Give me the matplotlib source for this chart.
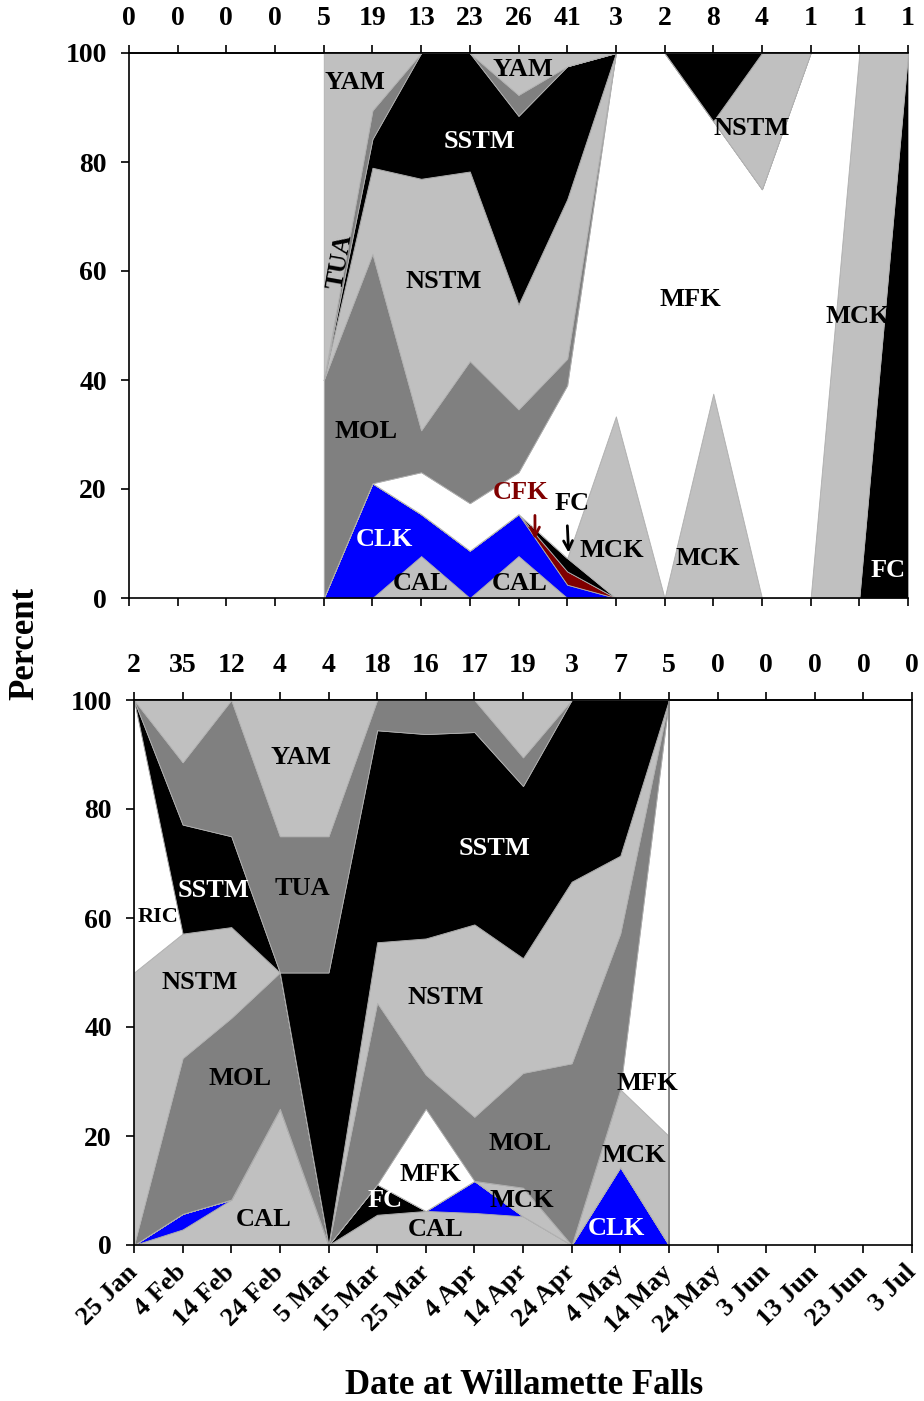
import numpy as np
import matplotlib
matplotlib.use('Agg')
import matplotlib.pyplot as plt

plt.rcParams['font.family'] = ['Liberation Serif', 'DejaVu Serif']
plt.rcParams['font.weight'] = 'bold'

# dates at Willamette Falls, 10 day steps
dates = ['25 Jan', '4 Feb', '14 Feb', '24 Feb', '5 Mar', '15 Mar', '25 Mar', '4 Apr',
         '14 Apr', '24 Apr', '4 May', '14 May', '24 May', '3 Jun', '13 Jun', '23 Jun', '3 Jul']

# stacking order (bottom -> top) and fill colour
species = ['CAL', 'CLK', 'CFK', 'FC', 'MCK', 'MFK', 'MOL', 'NSTM', 'RIC', 'SSTM', 'TUA', 'YAM']
fill = {'CAL': '#c0c0c0', 'CLK': '#0000ff', 'CFK': '#800000', 'FC': '#000000',
        'MCK': '#c0c0c0', 'MFK': '#ffffff', 'MOL': '#808080', 'NSTM': '#c0c0c0',
        'RIC': '#ffffff', 'SSTM': '#000000', 'TUA': '#808080', 'YAM': '#c0c0c0'}

# fish counts, upper panel (one value per date)
top_cal  = [0, 0, 0, 0, 0, 0, 1, 0, 2, 0, 0, 0, 0, 0, 0, 0, 0]
top_clk  = [0, 0, 0, 0, 0, 4, 1, 2, 2, 1, 0, 0, 0, 0, 0, 0, 0]
top_cfk  = [0, 0, 0, 0, 0, 0, 0, 0, 0, 1, 0, 0, 0, 0, 0, 0, 0]
top_fc   = [0, 0, 0, 0, 0, 0, 0, 0, 0, 1, 0, 0, 0, 0, 0, 0, 1]
top_mck  = [0, 0, 0, 0, 0, 0, 0, 0, 0, 0, 1, 0, 3, 0, 0, 1, 0]
top_mfk  = [0, 0, 0, 0, 0, 0, 1, 2, 2, 13, 2, 2, 4, 3, 1, 0, 0]
top_mol  = [0, 0, 0, 0, 2, 8, 1, 6, 3, 2, 0, 0, 0, 0, 0, 0, 0]
top_nstm = [0, 0, 0, 0, 0, 3, 6, 8, 5, 12, 0, 0, 0, 1, 0, 0, 0]
top_ric  = [0] * 17
top_sstm = [0, 0, 0, 0, 0, 1, 3, 5, 9, 10, 0, 0, 1, 0, 0, 0, 0]
top_tua  = [0, 0, 0, 0, 0, 1, 0, 0, 1, 0, 0, 0, 0, 0, 0, 0, 0]
top_yam  = [0, 0, 0, 0, 3, 2, 0, 0, 2, 1, 0, 0, 0, 0, 0, 0, 0]

# fish counts, lower panel
bot_cal  = [0, 1, 1, 1, 0, 1, 1, 1, 1, 0, 0, 0, 0, 0, 0, 0, 0]
bot_clk  = [0, 1, 0, 0, 0, 0, 0, 1, 0, 0, 1, 0, 0, 0, 0, 0, 0]
bot_cfk  = [0] * 17
bot_fc   = [0, 0, 0, 0, 0, 1, 0, 0, 0, 0, 0, 0, 0, 0, 0, 0, 0]
bot_mck  = [0, 0, 0, 0, 0, 0, 0, 0, 1, 0, 1, 1, 0, 0, 0, 0, 0]
bot_mfk  = [0, 0, 0, 0, 0, 0, 3, 0, 0, 0, 0, 4, 0, 0, 0, 0, 0]
bot_mol  = [0, 10, 4, 1, 0, 6, 1, 2, 4, 1, 2, 0, 0, 0, 0, 0, 0]
bot_nstm = [1, 8, 2, 0, 0, 2, 4, 6, 4, 1, 1, 0, 0, 0, 0, 0, 0]
bot_ric  = [1, 0, 0, 0, 0, 0, 0, 0, 0, 0, 0, 0, 0, 0, 0, 0, 0]
bot_sstm = [0, 7, 2, 0, 2, 7, 6, 6, 6, 1, 2, 0, 0, 0, 0, 0, 0]
bot_tua  = [0, 4, 3, 1, 1, 1, 1, 1, 1, 0, 0, 0, 0, 0, 0, 0, 0]
bot_yam  = [0, 4, 0, 1, 1, 0, 0, 0, 2, 0, 0, 0, 0, 0, 0, 0, 0]

top_counts = dict(zip(species, [top_cal, top_clk, top_cfk, top_fc, top_mck, top_mfk,
                                top_mol, top_nstm, top_ric, top_sstm, top_tua, top_yam]))
bot_counts = dict(zip(species, [bot_cal, bot_clk, bot_cfk, bot_fc, bot_mck, bot_mfk,
                                bot_mol, bot_nstm, bot_ric, bot_sstm, bot_tua, bot_yam]))

# region labels: (text, x index, percent, colour, rotation)
top_labels = [('YAM', 4.64, 94.5, 'k', 0), ('YAM', 8.09, 96.9, 'k', 0),
              ('SSTM', 7.19, 83.7, 'w', 0), ('TUA', 4.33, 61.7, 'k', 80),
              ('NSTM', 6.47, 58.0, 'k', 0), ('MOL', 4.87, 30.6, 'k', 0),
              ('CLK', 5.24, 10.8, 'w', 0), ('CAL', 6.0, 2.6, 'k', 0),
              ('CAL', 8.03, 2.6, 'k', 0), ('MCK', 9.92, 8.8, 'k', 0),
              ('MCK', 11.89, 7.2, 'k', 0), ('MFK', 11.52, 54.7, 'k', 0),
              ('NSTM', 12.79, 86.2, 'k', 0), ('MCK', 14.97, 51.7, 'k', 0),
              ('FC', 15.59, 5.0, 'w', 0)]
bot_labels = [('YAM', 3.44, 89.5, 'k', 0), ('SSTM', 1.63, 65.1, 'w', 0),
              ('TUA', 3.46, 65.5, 'k', 0), ('RIC', 0.49, 60.2, 'k', 0),
              ('NSTM', 1.36, 48.1, 'k', 0),
              ('MOL', 2.18, 30.5, 'k', 0), ('CAL', 2.67, 4.6, 'k', 0),
              ('SSTM', 7.41, 72.8, 'w', 0), ('NSTM', 6.42, 45.5, 'k', 0),
              ('MOL', 7.94, 18.7, 'k', 0), ('MFK', 6.09, 13.0, 'k', 0),
              ('FC', 5.16, 8.1, 'w', 0), ('MCK', 7.98, 8.1, 'k', 0),
              ('CAL', 6.21, 2.8, 'k', 0), ('MFK', 10.56, 29.7, 'k', 0),
              ('MCK', 10.27, 16.5, 'k', 0), ('CLK', 9.92, 3.1, 'w', 0)]


def draw_panel(ax, counts, labels, show_dates):
    x_all = np.arange(len(dates))
    n = np.sum([counts[s] for s in species], axis=0)
    ok = n > 0
    x = x_all[ok]
    base = np.zeros(len(x))
    for s in species:
        pct = np.array(counts[s])[ok] / n[ok] * 100.0
        ax.fill_between(x, base, base + pct, facecolor=fill[s],
                        edgecolor='#b0b0b0', linewidth=0.6)
        base = base + pct

    for txt, lx, ly, c, rot in labels:
        size = 16 if txt == 'RIC' else 19
        ax.text(lx, ly, txt, color=c, fontsize=size, ha='center', va='center',
                rotation=rot)

    ax.set_xlim(0, 16)
    ax.set_ylim(0, 100)
    ax.set_yticks(range(0, 101, 20))
    ax.set_xticks(x_all)
    ax.tick_params(axis='y', direction='out', length=6, width=1.2, pad=10, labelsize=20)
    ax.tick_params(axis='x', direction='out', length=6, width=1.2, top=False, pad=11)
    if show_dates:
        ax.set_xticklabels(dates, rotation=45, ha='right', va='center',
                           rotation_mode='anchor', fontsize=19)
    else:
        ax.set_xticklabels([])
    for sp in ax.spines.values():
        sp.set_linewidth(1.2)

    sec = ax.secondary_xaxis('top')
    sec.set_xticks(x_all, labels=[str(v) for v in n])
    sec.tick_params(direction='out', length=6, width=1.2, pad=10, labelsize=20)
    sec.spines['top'].set_linewidth(1.2)
    return x


fig = plt.figure(figsize=(9.24, 14.01), dpi=100)
ax1 = fig.add_axes([129 / 924, 1 - 598 / 1401, 779 / 924, 545 / 1401])
ax2 = fig.add_axes([134 / 924, 1 - 1245 / 1401, 778 / 924, 545 / 1401])

draw_panel(ax1, top_counts, top_labels, False)
ax1.spines['right'].set_visible(False)

# arrows for the thin CFK / FC bands
ax1.annotate('CFK', xy=(8.34, 10.8), xytext=(8.05, 19.3), color='#800000', fontsize=19,
             ha='center', va='center',
             arrowprops=dict(arrowstyle='->', color='#800000', lw=2, mutation_scale=16,
                             shrinkA=6, shrinkB=0, relpos=(0.75, 0)))
ax1.annotate('FC', xy=(9.03, 8.3), xytext=(9.1, 17.4), color='k', fontsize=19,
             ha='center', va='center',
             arrowprops=dict(arrowstyle='->', color='k', lw=2, mutation_scale=16,
                             shrinkA=6, shrinkB=0, relpos=(0.35, 0)))

x2 = draw_panel(ax2, bot_counts, bot_labels, True)
# edge of the last sampled date in the lower panel
ax2.plot([x2[-1], x2[-1]], [0, 100], color='#808080', lw=1.3)

fig.text(0.027, 1 - 644 / 1401, 'Percent', rotation=90, fontsize=25,
         ha='center', va='center')
fig.text(524 / 924, 1 - 1385 / 1401, 'Date at Willamette Falls', fontsize=25,
         ha='center', va='center')

fig.savefig('out.png', dpi=100)
